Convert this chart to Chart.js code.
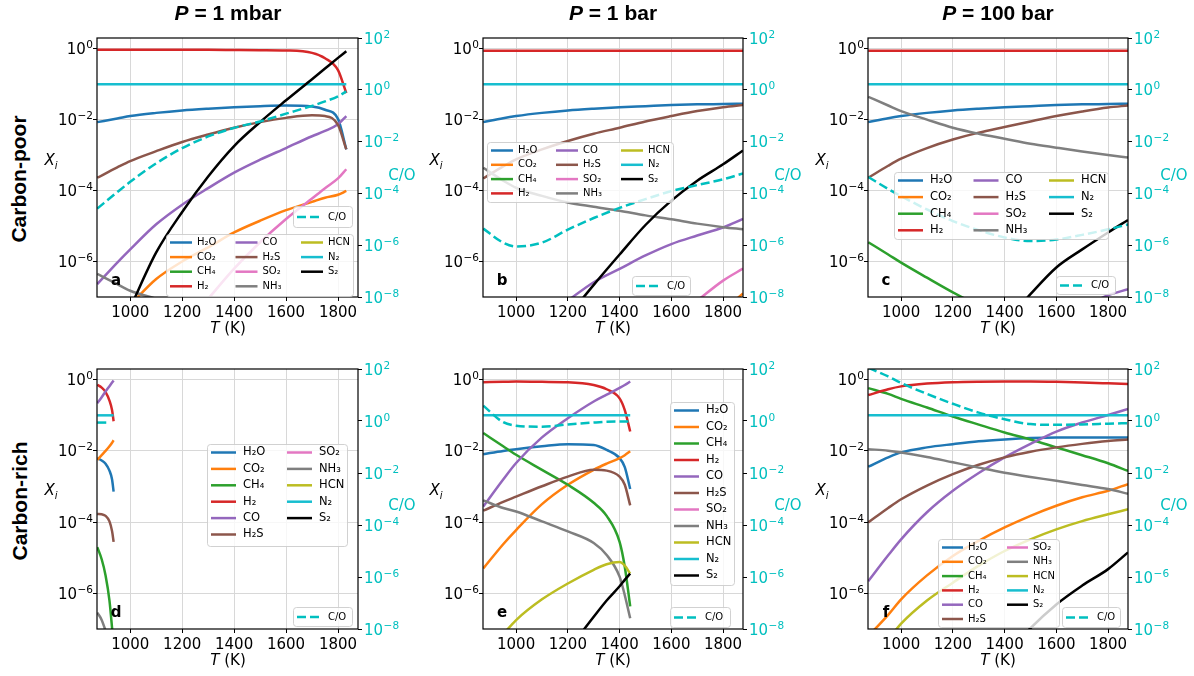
<!DOCTYPE html>
<html>
<head>
<meta charset="utf-8">
<script src="https://cdn.jsdelivr.net/npm/chart.js@4.4.0/dist/chart.umd.min.js"></script>
<style>
  body { margin: 0; background: #fff; }
  #fig { position: relative; width: 1194px; height: 676px; overflow: hidden; font-family: "DejaVu Sans", sans-serif; color: #000; }
  canvas { position: absolute; }
  .lbl { position: absolute; white-space: nowrap; transform: translate(-50%, -50%); line-height: 1; }
  .title { font: bold 21px "Liberation Sans", Arial, sans-serif; }
  .row { font: bold 21px "Liberation Sans", Arial, sans-serif; transform: translate(-50%, -50%) rotate(-90deg); }
  .ax { font-size: 15px; }
  .co { font-size: 15px; color: #00bfbf; }
  .let { font-size: 15px; font-weight: bold; }
</style>
</head>
<body>
<div id="fig"></div>
<script>
// species and colours (same order as the legends)
const species = ['H₂O', 'CO₂', 'CH₄', 'H₂', 'CO', 'H₂S', 'SO₂', 'NH₃', 'HCN', 'N₂', 'S₂'];
const colors = ['#1f77b4', '#ff7f0e', '#2ca02c', '#d62728', '#9467bd', '#8c564b', '#e377c2', '#7f7f7f', '#bcbd22', '#17becf', '#000000'];
const coColor = '#00bfbf';

const xTicks = [1000, 1200, 1400, 1600, 1800];
const xiTicks = [1e-6, 1e-4, 1e-2, 1];
const coTicks = [1e-8, 1e-6, 1e-4, 1e-2, 1, 100];

// ---- a : carbon-poor, 1 mbar
const tA = [873, 950, 1000, 1100, 1200, 1300, 1400, 1500, 1600, 1700, 1750, 1800, 1832];
const aH2O = [8.5e-3, 1.07e-2, 1.26e-2, 1.55e-2, 1.82e-2, 2.04e-2, 2.24e-2, 2.4e-2, 2.5e-2, 2.34e-2, 1.9e-2, 1.05e-2, 1.45e-3];
const aCO2 = [null, null, 6e-8, 3.2e-7, 1.0e-6, 2.5e-6, 6.6e-6, 1.41e-5, 2.8e-5, 4.8e-5, 6.3e-5, 7.6e-5, 9.8e-5];
const aH2 = [0.93, 0.93, 0.93, 0.93, 0.93, 0.93, 0.92, 0.91, 0.89, 0.76, 0.54, 0.25, 0.056];
const aCO = [2.3e-7, 9.3e-7, 2.2e-6, 1.12e-5, 4.0e-5, 1.17e-4, 3.2e-4, 7.4e-4, 1.58e-3, 3.4e-3, 4.8e-3, 7.4e-3, 1.26e-2];
const aH2S = [2.3e-4, 4.5e-4, 6.8e-4, 1.29e-3, 2.34e-3, 3.8e-3, 5.9e-3, 8.5e-3, 1.12e-2, 1.32e-2, 1.26e-2, 7.1e-3, 1.45e-3];
const aSO2 = [null, null, null, null, null, 8.9e-8, 6.3e-7, 3.5e-6, 1.58e-5, 6.0e-5, 1.17e-4, 2.2e-4, 4.0e-4];
const aNH3 = [4.5e-7, 2.3e-7, 1.5e-7, 8.9e-8, null, null, null, null, null, null, null, null, null];
const aN2 = [0.1, 0.1, 0.1, 0.1, 0.1, 0.1, 0.1, 0.1, 0.1, 0.1, 0.1, 0.1, 0.1];
const aS2 = [null, null, 5e-8, 1.8e-6, 2.5e-5, 2.5e-4, 1.8e-3, 8.5e-3, 3.5e-2, 0.138, 0.275, 0.55, 0.85];
const aCOratio = [2.6e-5, 1.12e-4, 2.8e-4, 1.45e-3, 5.6e-3, 1.58e-2, 3.4e-2, 6.0e-2, 0.12, 0.24, 0.355, 0.56, 0.87];

// ---- b : carbon-poor, 1 bar
const tB = [873, 950, 1000, 1100, 1200, 1300, 1400, 1500, 1600, 1700, 1800, 1877];
const bH2O = [8.5e-3, 1.1e-2, 1.26e-2, 1.55e-2, 1.82e-2, 2.04e-2, 2.24e-2, 2.4e-2, 2.57e-2, 2.7e-2, 2.75e-2, 2.8e-2];
const bCO2 = [null, null, null, null, null, null, null, null, null, null, 4e-8, 1.26e-7];
const bH2 = [0.87, 0.87, 0.87, 0.87, 0.87, 0.87, 0.87, 0.87, 0.87, 0.87, 0.87, 0.87];
const bCO = [null, null, null, null, 7.9e-8, 2.6e-7, 6.2e-7, 1.48e-6, 3.1e-6, 5.4e-6, 9.1e-6, 1.58e-5];
const bH2S = [2.2e-4, 4.8e-4, 7.6e-4, 1.45e-3, 2.5e-3, 4.0e-3, 5.9e-3, 8.9e-3, 1.26e-2, 1.74e-2, 2.24e-2, 2.6e-2];
const bSO2 = [null, null, null, null, null, null, null, null, null, 7.9e-8, 2.9e-7, 6.3e-7];
const bNH3 = [4.4e-4, 1.9e-4, 1.2e-4, 7.1e-5, 4.6e-5, 3.5e-5, 2.7e-5, 2.0e-5, 1.55e-5, 1.17e-5, 9.3e-6, 8.1e-6];
const bN2 = [0.1, 0.1, 0.1, 0.1, 0.1, 0.1, 0.1, 0.1, 0.1, 0.1, 0.1, 0.1];
const bS2 = [null, null, null, null, 2.8e-8, 2.2e-7, 1.58e-6, 1.07e-5, 5.2e-5, 1.9e-4, 5.5e-4, 1.35e-3];
const bCOratio = [4.4e-6, 1.26e-6, 8.9e-7, 1.26e-6, 4.0e-6, 1.12e-5, 2.75e-5, 6.0e-5, 1.23e-4, 2.1e-4, 3.5e-4, 5.9e-4];

// ---- c : carbon-poor, 100 bar
const tC = [873, 950, 1000, 1100, 1200, 1300, 1400, 1500, 1600, 1700, 1800, 1877];
const cH2O = [8.5e-3, 1.1e-2, 1.26e-2, 1.55e-2, 1.82e-2, 2.04e-2, 2.24e-2, 2.4e-2, 2.57e-2, 2.7e-2, 2.75e-2, 2.8e-2];
const cCH4 = [3.5e-6, 1.58e-6, 9.3e-7, 3.5e-7, 1.35e-7, 5.6e-8, null, null, null, null, null, null];
const cH2 = [0.87, 0.87, 0.87, 0.87, 0.87, 0.87, 0.87, 0.87, 0.87, 0.87, 0.87, 0.87];
const cCO = [null, null, null, null, null, null, null, null, null, 5e-8, 1.12e-7, 1.66e-7];
const cH2S = [2.3e-4, 5.0e-4, 7.9e-4, 1.58e-3, 2.75e-3, 4.3e-3, 6.2e-3, 8.9e-3, 1.26e-2, 1.7e-2, 2.2e-2, 2.5e-2];
const cNH3 = [4.4e-2, 2.5e-2, 1.74e-2, 1.0e-2, 5.9e-3, 4.0e-3, 2.9e-3, 2.1e-3, 1.62e-3, 1.26e-3, 1.0e-3, 8.5e-4];
const cN2 = [0.1, 0.1, 0.1, 0.1, 0.1, 0.1, 0.1, 0.1, 0.1, 0.1, 0.1, 0.1];
const cS2 = [null, null, null, null, null, null, 1.8e-8, 1.2e-7, 6.8e-7, 2.2e-6, 6.6e-6, 1.48e-5];
const cCOratio = [4.3e-4, 1.48e-4, 7.8e-5, 2.4e-5, 8.5e-6, 3.8e-6, 2.0e-6, 1.45e-6, 1.66e-6, 2.5e-6, 4.1e-6, 6.3e-6];

// ---- d : carbon-rich, 1 mbar
const tD = [873, 890, 905, 920, 930, 936];
const dH2O = [6.3e-3, 5.4e-3, 4.4e-3, 2.8e-3, 1.58e-3, 7.2e-4];
const dCO2 = [5.6e-3, 7.6e-3, 1.0e-2, 1.35e-2, 1.7e-2, 2.0e-2];
const dCH4 = [2.0e-5, 9.1e-6, 3.2e-6, 6.3e-7, 1.07e-7, 3.2e-8];
const dH2 = [0.72, 0.6, 0.45, 0.26, 0.14, 0.068];
const dCO = [0.22, 0.32, 0.47, 0.66, 0.83, 0.95];
const dH2S = [1.7e-4, 1.66e-4, 1.5e-4, 1.05e-4, 5.6e-5, 2.8e-5];
const dNH3 = [2.9e-7, 1.8e-7, 9e-8, null, null, null];
const dN2 = [0.1, 0.1, 0.1, 0.1, 0.1, 0.1];
const dCOratio = [0.87, 0.87, 0.87, 0.87, null, null];

// ---- e : carbon-rich, 1 bar
const tE = [873, 950, 1000, 1100, 1200, 1300, 1350, 1400, 1420, 1441];
const eH2O = [8.1e-3, 1.0e-2, 1.12e-2, 1.35e-2, 1.55e-2, 1.48e-2, 1.07e-2, 6.3e-3, 3.5e-3, 8.5e-4];
const eCO2 = [5.0e-6, 2.4e-5, 6.0e-5, 3.2e-4, 1.12e-3, 2.95e-3, 4.4e-3, 6.3e-3, 7.6e-3, 9.8e-3];
const eCH4 = [3.2e-2, 1.35e-2, 7.8e-3, 2.95e-3, 1.12e-3, 3.5e-4, 1.5e-4, 2.8e-5, 5.6e-6, 4.3e-7];
const eH2 = [0.85, 0.87, 0.89, 0.87, 0.85, 0.71, 0.54, 0.3, 0.14, 0.035];
const eCO = [2.75e-4, 1.58e-3, 4.6e-3, 2.4e-2, 8.3e-2, 0.245, 0.38, 0.59, 0.71, 0.89];
const eH2S = [2.1e-4, 3.7e-4, 5.2e-4, 1.02e-3, 1.9e-3, 2.95e-3, 2.8e-3, 1.9e-3, 1.12e-3, 2.95e-4];
const eNH3 = [4.1e-4, 2.5e-4, 2.0e-4, 1.05e-4, 5.5e-5, 2.6e-5, 1.2e-5, 2.95e-6, 8.9e-7, 2.0e-7];
const eHCN = [null, 7.1e-8, 1.78e-7, 6.8e-7, 1.9e-6, 4.6e-6, 6.6e-6, 7.6e-6, 6.0e-6, 3.6e-6];
const eN2 = [0.1, 0.1, 0.1, 0.1, 0.1, 0.1, 0.1, 0.1, 0.1, 0.1];
const eS2 = [null, null, null, null, 2.5e-8, 2.2e-7, 6.3e-7, 1.58e-6, 2.4e-6, 3.6e-6];
const eCOratio = [3.9, 0.9, 0.66, 0.6, 0.74, 0.87, 0.93, 0.95, 0.95, 0.95];

// ---- f : carbon-rich, 100 bar
const tF = [873, 950, 1000, 1100, 1200, 1300, 1400, 1500, 1600, 1700, 1800, 1877];
const fH2O = [3.6e-3, 6.6e-3, 9.1e-3, 1.26e-2, 1.55e-2, 1.86e-2, 2.1e-2, 2.3e-2, 2.4e-2, 2.4e-2, 2.4e-2, 2.4e-2];
const fCO2 = [6.3e-8, 2.5e-7, 6.8e-7, 3.2e-6, 1.12e-5, 3.0e-5, 7.1e-5, 1.51e-4, 2.9e-4, 5.0e-4, 7.6e-4, 1.17e-3];
const fCH4 = [0.58, 0.4, 0.29, 0.166, 9.3e-2, 5.5e-2, 3.3e-2, 2.1e-2, 1.26e-2, 7.6e-3, 4.5e-3, 2.75e-3];
const fH2 = [0.37, 0.54, 0.65, 0.78, 0.85, 0.88, 0.89, 0.89, 0.87, 0.83, 0.79, 0.76];
const fCO = [2.2e-6, 1.17e-5, 3.3e-5, 1.9e-4, 7.6e-4, 2.4e-3, 6.6e-3, 1.58e-2, 3.5e-2, 6.3e-2, 0.102, 0.15];
const fH2S = [9.8e-5, 2.5e-4, 4.4e-4, 1.07e-3, 2.24e-3, 4.1e-3, 6.6e-3, 9.5e-3, 1.26e-2, 1.58e-2, 1.9e-2, 2.1e-2];
const fNH3 = [1.12e-2, 1.02e-2, 9.1e-3, 6.8e-3, 4.8e-3, 3.4e-3, 2.45e-3, 1.86e-3, 1.45e-3, 1.1e-3, 8.5e-4, 6.3e-4];
const fHCN = [null, 5e-8, 1.41e-7, 6.3e-7, 2.0e-6, 6.0e-6, 1.55e-5, 3.3e-5, 6.3e-5, 1.07e-4, 1.66e-4, 2.3e-4];
const fN2 = [0.1, 0.1, 0.1, 0.1, 0.1, 0.1, 0.1, 0.1, 0.1, 0.1, 0.1, 0.1];
const fS2 = [null, null, null, null, null, null, 1.6e-8, 1.05e-7, 4.9e-7, 1.66e-6, 4.8e-6, 1.41e-5];
const fCOratio = [112, 52, 29, 11, 4.6, 2.1, 1.17, 0.76, 0.71, 0.74, 0.79, 0.83];

// page layout of the six panels (plot-area rectangles) and their legends
const panels = [
  { L: 97, T: 38, W: 261, H: 259, t: tA, co: aCOratio,
    s: { 'H₂O': aH2O, 'CO₂': aCO2, 'H₂': aH2, 'CO': aCO, 'H₂S': aH2S, 'SO₂': aSO2, 'NH₃': aNH3, 'N₂': aN2, 'S₂': aS2 },
    leg: { x: 166, y: 234, w: 187, h: 62, ncol: 3, colW: 65.5, rowH: 14.6, font: 10, handle: 22, gap: 5 },
    coLeg: { x: 293, y: 206, w: 59, h: 21 } },
  { L: 483, T: 38, W: 260, H: 259, t: tB, co: bCOratio,
    s: { 'H₂O': bH2O, 'CO₂': bCO2, 'H₂': bH2, 'CO': bCO, 'H₂S': bH2S, 'SO₂': bSO2, 'NH₃': bNH3, 'N₂': bN2, 'S₂': bS2 },
    leg: { x: 487, y: 142, w: 186, h: 60, ncol: 3, colW: 65, rowH: 14.3, font: 10, handle: 22, gap: 5 },
    coLeg: { x: 632, y: 276, w: 58, h: 19 } },
  { L: 868, T: 38, W: 260, H: 259, t: tC, co: cCOratio,
    s: { 'H₂O': cH2O, 'CH₄': cCH4, 'H₂': cH2, 'CO': cCO, 'H₂S': cH2S, 'NH₃': cNH3, 'N₂': cN2, 'S₂': cS2 },
    leg: { x: 894, y: 172, w: 214, h: 67, ncol: 3, colW: 75.5, rowH: 16.6, font: 11.5, handle: 25, gap: 7 },
    coLeg: { x: 1056, y: 276, w: 59, h: 18 } },
  { L: 97, T: 369, W: 261, H: 260, t: tD, co: dCOratio,
    s: { 'H₂O': dH2O, 'CO₂': dCO2, 'CH₄': dCH4, 'H₂': dH2, 'CO': dCO, 'H₂S': dH2S, 'NH₃': dNH3, 'N₂': dN2 },
    leg: { x: 207, y: 444, w: 140, h: 102, ncol: 2, colW: 76, rowH: 16.4, font: 11.5, handle: 25, gap: 7 },
    coLeg: { x: 293, y: 607, w: 59, h: 19 } },
  { L: 483, T: 369, W: 260, H: 260, t: tE, co: eCOratio,
    s: { 'H₂O': eH2O, 'CO₂': eCO2, 'CH₄': eCH4, 'H₂': eH2, 'CO': eCO, 'H₂S': eH2S, 'NH₃': eNH3, 'HCN': eHCN, 'N₂': eN2, 'S₂': eS2 },
    leg: { x: 670, y: 402, w: 64, h: 183, ncol: 1, colW: 0, rowH: 16.5, font: 11.5, handle: 25, gap: 7 },
    coLeg: { x: 670, y: 607, w: 60, h: 20 } },
  { L: 868, T: 369, W: 260, H: 260, t: tF, co: fCOratio,
    s: { 'H₂O': fH2O, 'CO₂': fCO2, 'CH₄': fCH4, 'H₂': fH2, 'CO': fCO, 'H₂S': fH2S, 'NH₃': fNH3, 'HCN': fHCN, 'N₂': fN2, 'S₂': fS2 },
    leg: { x: 938, y: 539, w: 121, h: 88, ncol: 2, colW: 65, rowH: 14.3, font: 10, handle: 21, gap: 5 },
    coLeg: { x: 1062, y: 607, w: 58, h: 20 } }
];

function boxPath(ctx, x, y, w, h, r) {
  ctx.beginPath();
  ctx.moveTo(x + r, y);
  ctx.lineTo(x + w - r, y); ctx.arcTo(x + w, y, x + w, y + r, r);
  ctx.lineTo(x + w, y + h - r); ctx.arcTo(x + w, y + h, x + w - r, y + h, r);
  ctx.lineTo(x + r, y + h); ctx.arcTo(x, y + h, x, y + h - r, r);
  ctx.lineTo(x, y + r); ctx.arcTo(x, y, x + r, y, r);
  ctx.closePath();
}
function drawBox(ctx, x, y, w, h) {
  boxPath(ctx, x + 0.5, y + 0.5, w, h, 3);
  ctx.fillStyle = 'rgba(255,255,255,0.8)';
  ctx.fill();
  ctx.strokeStyle = 'rgba(204,204,204,0.9)';
  ctx.lineWidth = 1;
  ctx.setLineDash([]);
  ctx.stroke();
}

const framePlugin = {
  id: 'frame',
  afterDatasetsDraw(chart) {
    const a = chart.chartArea, c = chart.ctx;
    c.save();
    c.strokeStyle = '#000';
    c.lineWidth = 1.2;
    c.setLineDash([]);
    c.strokeRect(a.left, a.top, a.right - a.left, a.bottom - a.top);
    c.restore();
  }
};

// log tick labels as 10 with a raised exponent (like mathtext)
const powerLabels = {
  id: 'powerLabels',
  afterDraw(chart) {
    const ctx = chart.ctx;
    ctx.save();
    ctx.textBaseline = 'alphabetic';
    ctx.textAlign = 'left';
    [['y', xiTicks, '#000', 'left'], ['y2', coTicks, coColor, 'right']].forEach(([id, vals, col, side]) => {
      const sc = chart.scales[id];
      vals.forEach(v => {
        const y = sc.getPixelForValue(v);
        const e = String(Math.round(Math.log10(v))).replace('-', '−');
        ctx.font = '15px "DejaVu Sans"';
        const wBase = ctx.measureText('10').width;
        ctx.font = '10.5px "DejaVu Sans"';
        const wExp = ctx.measureText(e).width;
        const x0 = side === 'left' ? chart.chartArea.left - 4.5 - wBase - wExp : chart.chartArea.right + 6;
        ctx.fillStyle = col;
        ctx.font = '15px "DejaVu Sans"';
        ctx.fillText('10', x0, y + 5.5);
        ctx.font = '10.5px "DejaVu Sans"';
        ctx.fillText(e, x0 + wBase + 0.5, y - 0.5);
      });
    });
    ctx.restore();
  }
};

const legendPlugin = {
  id: 'figLegend',
  afterDraw(chart, args, o) {
    const ctx = chart.ctx, lg = o.leg, cl = o.coLeg;
    ctx.save();
    drawBox(ctx, lg.x - o.offX, lg.y - o.offY, lg.w, lg.h);
    const nrows = Math.ceil(species.length / lg.ncol);
    ctx.font = lg.font + 'px "DejaVu Sans"';
    ctx.textBaseline = 'middle';
    ctx.textAlign = 'left';
    species.forEach((name, i) => {
      const col = Math.floor(i / nrows), row = i % nrows;
      const hx = lg.x - o.offX + 4 + col * lg.colW;
      const hy = lg.y - o.offY + 8.5 + row * lg.rowH;
      ctx.strokeStyle = colors[i];
      ctx.lineWidth = 2.5;
      ctx.beginPath(); ctx.moveTo(hx, hy); ctx.lineTo(hx + lg.handle, hy); ctx.stroke();
      ctx.fillStyle = '#000';
      ctx.fillText(name, hx + lg.handle + lg.gap, hy);
    });
    // C/O legend
    drawBox(ctx, cl.x - o.offX, cl.y - o.offY, cl.w, cl.h);
    const cx = cl.x - o.offX + 4, cy = cl.y - o.offY + cl.h / 2 + 0.5;
    ctx.strokeStyle = coColor;
    ctx.lineWidth = 2.5;
    ctx.setLineDash([9, 4]);
    ctx.beginPath(); ctx.moveTo(cx, cy); ctx.lineTo(cx + 25, cy); ctx.stroke();
    ctx.setLineDash([]);
    ctx.font = '10px "DejaVu Sans"';
    ctx.fillStyle = '#000';
    ctx.fillText('C/O', cx + 31, cy);
    ctx.restore();
  }
};

const fig = document.getElementById('fig');
const tickFont = { family: 'DejaVu Sans', size: 15 };

panels.forEach(p => {
  const cv = document.createElement('canvas');
  const offX = p.L - 55, offY = p.T - 15;
  cv.width = p.W + 110;
  cv.height = p.H + 45;
  cv.style.left = offX + 'px';
  cv.style.top = offY + 'px';
  fig.appendChild(cv);

  const datasets = [];
  species.forEach((name, i) => {
    const arr = p.s[name];
    if (!arr) return;
    datasets.push({
      label: name,
      data: p.t.map((t, k) => ({ x: t, y: arr[k] })),
      borderColor: colors[i],
      yAxisID: 'y'
    });
  });
  datasets.push({
    label: 'C/O',
    data: p.t.map((t, k) => ({ x: t, y: p.co[k] })),
    borderColor: coColor,
    borderDash: [9, 4],
    yAxisID: 'y2'
  });
  datasets.reverse(); // first dataset is drawn on top

  new Chart(cv, {
    type: 'line',
    data: { datasets: datasets },
    options: {
      responsive: false,
      animation: false,
      devicePixelRatio: 1,
      layout: { padding: { left: 5, right: 5, top: 15, bottom: 0 } },
      elements: {
        point: { radius: 0 },
        line: { borderWidth: 2.5, cubicInterpolationMode: 'monotone', fill: false }
      },
      plugins: {
        legend: { display: false },
        tooltip: { enabled: false },
        figLegend: { leg: p.leg, coLeg: p.coLeg, offX: offX, offY: offY }
      },
      scales: {
        x: {
          type: 'linear', min: 872, max: 1877,
          afterBuildTicks: s => { s.ticks = xTicks.map(v => ({ value: v })); s.min = 872; s.max = 1877; },
          afterFit: s => { s.height = 30; },
          border: { display: false },
          grid: { color: '#d8d8d8', lineWidth: 1, tickLength: 4, tickColor: '#000', tickWidth: 1 },
          ticks: { font: tickFont, color: '#000', padding: 3, maxRotation: 0, autoSkip: false, callback: v => String(v) }
        },
        y: {
          type: 'logarithmic', position: 'left', min: 1e-7, max: 2,
          afterBuildTicks: s => { s.ticks = xiTicks.map(v => ({ value: v })); s.min = 1e-7; s.max = 2; },
          afterFit: s => { s.width = 50; },
          border: { display: false },
          grid: { color: '#d8d8d8', lineWidth: 1, tickLength: 4, tickColor: '#000', tickWidth: 1 },
          ticks: { display: false }
        },
        y2: {
          type: 'logarithmic', position: 'right', min: 1e-8, max: 100,
          afterBuildTicks: s => { s.ticks = coTicks.map(v => ({ value: v })); s.min = 1e-8; s.max = 100; },
          afterFit: s => { s.width = 50; },
          border: { display: false },
          grid: { drawOnChartArea: false, tickLength: 4, tickColor: '#000', tickWidth: 1 },
          ticks: { display: false }
        }
      }
    },
    plugins: [framePlugin, powerLabels, legendPlugin]
  });
});

// text around the panels
function addLabel(cls, html, x, y) {
  const d = document.createElement('div');
  d.className = 'lbl ' + cls;
  d.innerHTML = html;
  d.style.left = x + 'px';
  d.style.top = y + 'px';
  fig.appendChild(d);
}
const titles = ['<i>P</i> = 1 mbar', '<i>P</i> = 1 bar', '<i>P</i> = 100 bar'];
const colX = [228, 613, 998];
const xiX = [51, 436, 822];
const coX = [402, 788, 1174];
const letters = [['a', 'b', 'c'], ['d', 'e', 'f']];
const letterX = [116, 502, 886];
titles.forEach((t, i) => addLabel('title', t, colX[i], 13));
addLabel('row', 'Carbon-poor', 19, 179);
addLabel('row', 'Carbon-rich', 20, 501);
[0, 1].forEach(r => {
  const yXi = r === 0 ? 160 : 490;
  const yCO = r === 0 ? 175 : 505;
  const yT = r === 0 ? 328 : 660;
  const yLet = r === 0 ? 280 : 612;
  [0, 1, 2].forEach(c => {
    addLabel('ax', '<i>X<span style="font-size:10px;position:relative;top:4px">i</span></i>', xiX[c], yXi);
    addLabel('co', 'C/O', coX[c], yCO);
    addLabel('ax', '<i>T</i> (K)', colX[c], yT);
    addLabel('let', letters[r][c], letterX[c], yLet);
  });
});
</script>
</body>
</html>
